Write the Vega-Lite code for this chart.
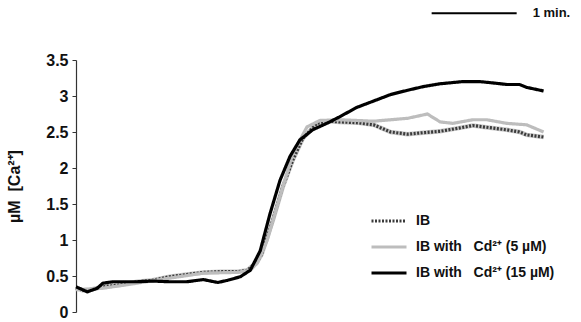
{
  "$schema": "https://vega.github.io/schema/vega-lite/v6.json",
  "width": 469,
  "height": 252,
  "autosize": {"type": "none"},
  "padding": {"left": 76, "top": 60, "right": 36, "bottom": 10},
  "background": "white",
  "config": {
    "view": {"stroke": null},
    "font": "Liberation Sans",
    "axisY": {
      "values": [0, 0.5, 1, 1.5, 2, 2.5, 3, 3.5],
      "format": "~g",
      "grid": false,
      "labelOverlap": false,
      "domainColor": "#333",
      "domainWidth": 1.2,
      "tickColor": "#333",
      "tickSize": 4,
      "labelPadding": 4,
      "labelFont": "Liberation Sans",
      "labelFontWeight": "bold",
      "labelFontSize": 16,
      "labelColor": "#111",
      "titleFont": "Liberation Sans",
      "titleFontWeight": "bold",
      "titleFontSize": 16,
      "titleColor": "#111",
      "titlePadding": 23
    }
  },
  "datasets": {
    "series": [
      {"t": 0, "v": 0.33, "s": "IB"},
      {"t": 5, "v": 0.3, "s": "IB"},
      {"t": 10, "v": 0.31, "s": "IB"},
      {"t": 19, "v": 0.35, "s": "IB"},
      {"t": 31, "v": 0.375, "s": "IB"},
      {"t": 43, "v": 0.42, "s": "IB"},
      {"t": 54, "v": 0.44, "s": "IB"},
      {"t": 66, "v": 0.49, "s": "IB"},
      {"t": 78, "v": 0.52, "s": "IB"},
      {"t": 90, "v": 0.55, "s": "IB"},
      {"t": 102, "v": 0.56, "s": "IB"},
      {"t": 114, "v": 0.56, "s": "IB"},
      {"t": 121, "v": 0.58, "s": "IB"},
      {"t": 128, "v": 0.7, "s": "IB"},
      {"t": 131, "v": 0.8, "s": "IB"},
      {"t": 139, "v": 1.28, "s": "IB"},
      {"t": 146, "v": 1.74, "s": "IB"},
      {"t": 153, "v": 2.11, "s": "IB"},
      {"t": 160, "v": 2.41, "s": "IB"},
      {"t": 170, "v": 2.62, "s": "IB"},
      {"t": 179, "v": 2.65, "s": "IB"},
      {"t": 186, "v": 2.64, "s": "IB"},
      {"t": 198, "v": 2.63, "s": "IB"},
      {"t": 210, "v": 2.6, "s": "IB"},
      {"t": 222, "v": 2.5, "s": "IB"},
      {"t": 234, "v": 2.47, "s": "IB"},
      {"t": 245, "v": 2.49, "s": "IB"},
      {"t": 257, "v": 2.51, "s": "IB"},
      {"t": 269, "v": 2.55, "s": "IB"},
      {"t": 280, "v": 2.59, "s": "IB"},
      {"t": 292, "v": 2.56, "s": "IB"},
      {"t": 304, "v": 2.53, "s": "IB"},
      {"t": 313, "v": 2.5, "s": "IB"},
      {"t": 318, "v": 2.46, "s": "IB"},
      {"t": 330, "v": 2.43, "s": "IB"},
      {"t": 0, "v": 0.31, "s": "5"},
      {"t": 19, "v": 0.33, "s": "5"},
      {"t": 43, "v": 0.4, "s": "5"},
      {"t": 66, "v": 0.47, "s": "5"},
      {"t": 90, "v": 0.54, "s": "5"},
      {"t": 114, "v": 0.55, "s": "5"},
      {"t": 123, "v": 0.58, "s": "5"},
      {"t": 128, "v": 0.68, "s": "5"},
      {"t": 135, "v": 1.0, "s": "5"},
      {"t": 144, "v": 1.6, "s": "5"},
      {"t": 153, "v": 2.2, "s": "5"},
      {"t": 163, "v": 2.57, "s": "5"},
      {"t": 172, "v": 2.66, "s": "5"},
      {"t": 186, "v": 2.67, "s": "5"},
      {"t": 210, "v": 2.65, "s": "5"},
      {"t": 234, "v": 2.69, "s": "5"},
      {"t": 248, "v": 2.75, "s": "5"},
      {"t": 257, "v": 2.64, "s": "5"},
      {"t": 266, "v": 2.62, "s": "5"},
      {"t": 280, "v": 2.67, "s": "5"},
      {"t": 290, "v": 2.67, "s": "5"},
      {"t": 304, "v": 2.62, "s": "5"},
      {"t": 318, "v": 2.6, "s": "5"},
      {"t": 330, "v": 2.5, "s": "5"},
      {"t": 0, "v": 0.35, "s": "15"},
      {"t": 8, "v": 0.28, "s": "15"},
      {"t": 15, "v": 0.33, "s": "15"},
      {"t": 19, "v": 0.4, "s": "15"},
      {"t": 26, "v": 0.42, "s": "15"},
      {"t": 33, "v": 0.42, "s": "15"},
      {"t": 43, "v": 0.42, "s": "15"},
      {"t": 54, "v": 0.43, "s": "15"},
      {"t": 66, "v": 0.42, "s": "15"},
      {"t": 78, "v": 0.42, "s": "15"},
      {"t": 90, "v": 0.45, "s": "15"},
      {"t": 100, "v": 0.41, "s": "15"},
      {"t": 107, "v": 0.44, "s": "15"},
      {"t": 116, "v": 0.49, "s": "15"},
      {"t": 123, "v": 0.58, "s": "15"},
      {"t": 130, "v": 0.85, "s": "15"},
      {"t": 137, "v": 1.37, "s": "15"},
      {"t": 144, "v": 1.83, "s": "15"},
      {"t": 151, "v": 2.16, "s": "15"},
      {"t": 158, "v": 2.39, "s": "15"},
      {"t": 167, "v": 2.53, "s": "15"},
      {"t": 177, "v": 2.62, "s": "15"},
      {"t": 186, "v": 2.71, "s": "15"},
      {"t": 198, "v": 2.84, "s": "15"},
      {"t": 210, "v": 2.93, "s": "15"},
      {"t": 222, "v": 3.02, "s": "15"},
      {"t": 234, "v": 3.08, "s": "15"},
      {"t": 245, "v": 3.13, "s": "15"},
      {"t": 257, "v": 3.17, "s": "15"},
      {"t": 273, "v": 3.2, "s": "15"},
      {"t": 285, "v": 3.2, "s": "15"},
      {"t": 295, "v": 3.18, "s": "15"},
      {"t": 304, "v": 3.16, "s": "15"},
      {"t": 313, "v": 3.16, "s": "15"},
      {"t": 318, "v": 3.12, "s": "15"},
      {"t": 330, "v": 3.07, "s": "15"}
    ],
    "scalebar": [
      {"t0": 251, "t1": 311, "v": 4.15, "label": "1 min."}
    ]
  },
  "encoding": {
    "x": {"field": "t", "type": "quantitative", "scale": {"domain": [0, 331]}, "axis": null},
    "y": {
      "field": "v",
      "type": "quantitative",
      "scale": {"domain": [0, 3.5], "nice": false, "zero": true},
      "axis": {"title": "µM\u00a0\u00a0[Ca²⁺]"}
    }
  },
  "layer": [
    {
      "data": {"name": "series"},
      "transform": [{"filter": "datum.s === 'IB'"}],
      "mark": {"type": "line", "color": "#c8c8c8", "strokeWidth": 4.5, "clip": false}
    },
    {
      "data": {"name": "series"},
      "mark": {"type": "line", "strokeWidth": 3.2, "clip": false},
      "encoding": {
        "color": {
          "field": "s",
          "type": "nominal",
          "scale": {"domain": ["IB", "5", "15"], "range": ["#3a3a3a", "#bdbdbd", "#000000"]},
          "legend": {
            "orient": "none",
            "legendX": 294,
            "legendY": 142,
            "title": null,
            "symbolType": "stroke",
            "symbolSize": 1225,
            "symbolStrokeWidth": 3,
            "labelFont": "Liberation Sans",
            "labelFontWeight": "bold",
            "labelFontSize": 14,
            "labelColor": "#111",
            "labelOffset": 8,
            "rowPadding": -1,
            "labelExpr": "datum.value === 'IB' ? 'IB' : 'IB with\u00a0\u00a0\u00a0Cd²⁺ (' + datum.value + '\u00a0µM)'"
          }
        },
        "strokeDash": {
          "field": "s",
          "type": "nominal",
          "scale": {"domain": ["IB", "5", "15"], "range": [[2, 1.5], [1, 0], [1, 0]]},
          "legend": null
        }
      }
    },
    {
      "data": {"name": "scalebar"},
      "mark": {"type": "rule", "color": "#000", "strokeWidth": 2, "clip": false},
      "encoding": {
        "x": {"field": "t0", "type": "quantitative"},
        "x2": {"field": "t1"},
        "y": {"field": "v", "type": "quantitative"}
      }
    },
    {
      "data": {"name": "scalebar"},
      "mark": {"type": "text", "align": "left", "baseline": "middle", "dx": 16, "font": "Liberation Sans", "fontWeight": "bold", "fontSize": 13, "color": "#111", "clip": false},
      "encoding": {
        "x": {"field": "t1", "type": "quantitative"},
        "y": {"field": "v", "type": "quantitative"},
        "text": {"field": "label"}
      }
    }
  ]
}
